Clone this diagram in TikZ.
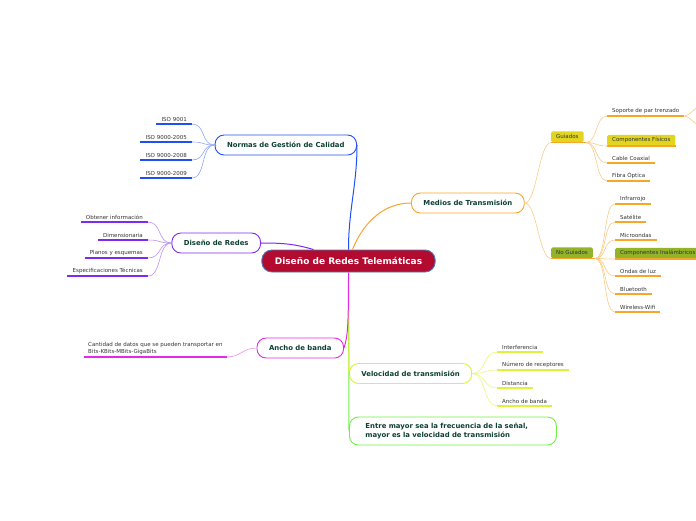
\documentclass[tikz,border=0pt]{standalone}
\usepackage{fontspec}
\setmainfont{DejaVu Sans}
\definecolor{rootfill}{HTML}{B30B2F}
\definecolor{rootline}{HTML}{4A7AB5}
\definecolor{topictxt}{HTML}{0D4032}
\definecolor{leaftxt}{HTML}{333333}
\definecolor{cblue}{HTML}{1F4FF5}
\definecolor{lblue}{HTML}{8FA8F8}
\definecolor{cpurple}{HTML}{7F2AF0}
\definecolor{lpurple}{HTML}{BB90F5}
\definecolor{cmag}{HTML}{E22BE6}
\definecolor{lmag}{HTML}{F08CF0}
\definecolor{corange}{HTML}{F8A528}
\definecolor{lorange}{HTML}{FBCB85}
\definecolor{cyel}{HTML}{DDF23A}
\definecolor{lyel}{HTML}{E9F58A}
\definecolor{cgreen}{HTML}{72EE48}
\definecolor{gyellow}{HTML}{E2D520}
\definecolor{golive}{HTML}{93B428}
\begin{document}
\begin{tikzpicture}[
  x=1pt,y=-1pt,
  topic/.style={draw,line width=0.9pt,fill=white,rounded corners=9pt,minimum height=20pt,
    inner xsep=12pt,text=topictxt,font=\bfseries\fontsize{6.9}{8.6}\selectfont},
  leaf/.style={inner xsep=5pt,inner ysep=2.5pt,text=leaftxt,font=\fontsize{5.5}{6.6}\selectfont},
  ytag/.style={leaf,fill=gyellow,rounded corners=1.5pt,minimum height=11pt,inner ysep=1pt},
  gtag/.style={leaf,fill=golive,rounded corners=1.5pt,minimum height=11pt,inner ysep=1pt},
  link/.style={line width=0.6pt},
  ul/.style={line width=1.1pt}
]
\useasboundingbox (0,0) rectangle (696,520);

\node[topic,fill=rootfill,draw=rootline,text=white,font=\bfseries\fontsize{9}{10}\selectfont,
  minimum height=22pt,inner xsep=13pt,rounded corners=10pt] (root) at (348.5,261) {Diseño de Redes Telemáticas};

\node[topic,draw=cblue,anchor=east] (nor) at (357,145) {Normas de Gestión de Calidad};
\node[topic,draw=cpurple,anchor=east] (dis) at (261,243) {Diseño de Redes};
\node[topic,draw=cmag,anchor=east] (anc) at (344,348) {Ancho de banda};
\node[topic,draw=corange,anchor=west] (med) at (411,203) {Medios de Transmisión};
\node[topic,draw=cyel,anchor=west] (vel) at (349,373.5) {Velocidad de transmisión};
\node[topic,draw=cgreen,align=left,text width=175pt,inner xsep=16pt,minimum height=28pt,anchor=west] (ent) at (349,431)
  {Entre mayor sea la frecuencia de la señal,\\mayor es la velocidad de transmisión};

\draw[link,cgreen,line width=1pt] (root.south) -- (ent.west);
\draw[link,cyel,line width=1pt] (root.south) -- (vel.west);
\draw[link,cmag,line width=1pt] (root.south) .. controls +(0,50) and +(4,-12) .. (anc.east);
\draw[link,cblue,line width=1pt] (root.north) .. controls +(0,-40) and +(0,40) .. (nor.east);
\draw[link,cpurple,line width=1pt] ([xshift=-35pt]root.north) .. controls +(-20,-6) and +(20,0) .. (dis.east);
\draw[link,corange,line width=1pt] ([xshift=4pt]root.north) .. controls +(12,-30) and +(-25,0) .. (med.west);

\foreach \t/\y [count=\i] in {ISO 9001/124,ISO 9000-2005/142,ISO 9000-2008/160,ISO 9000-2009/178}{
  \node[leaf,anchor=south east] (iso\i) at (192,\y) {\t};
  \draw[ul,cblue] (iso\i.south west) -- (iso\i.south east);
  \draw[link,lblue] (nor.west) .. controls +(-14,0) and +(14,0) .. (iso\i.south east);
}

\foreach \t/\y [count=\i] in {Obtener información/222,Dimensionaria/240,Planos y esquemas/258,Especificaciones Técnicas/276}{
  \node[leaf,anchor=south east] (red\i) at (148,\y) {\t};
  \draw[ul,cpurple] (red\i.south west) -- (red\i.south east);
  \draw[link,lpurple] (dis.west) .. controls +(-14,0) and +(14,0) .. (red\i.south east);
}

\node[leaf,anchor=south west,align=left,inner xsep=4pt] (cap) at (84,357)
  {Cantidad de datos que se pueden transportar en\\Bits-KBits-MBits-GigaBits};
\draw[ul,cmag] (cap.south west) -- (cap.south east);
\draw[link,lmag] (anc.west) .. controls +(-14,0) and +(14,0) .. (cap.south east);

\foreach \t/\y [count=\i] in {Interferencia/352,Número de receptores/370,Distancia/388,Ancho de banda/406}{
  \node[leaf,anchor=south west] (vel\i) at (497,\y) {\t};
  \draw[ul,cyel] (vel\i.south west) -- (vel\i.south east);
  \draw[link,lyel] (vel.east) .. controls +(14,0) and +(-14,0) .. (vel\i.south west);
}

\node[ytag,anchor=south west] (gui) at (551,142.5) {Guiados};
\node[gtag,anchor=south west] (ngu) at (551,258.5) {No Guiados};
\foreach \n in {gui,ngu}{
  \draw[ul,corange] (\n.south west) -- ([xshift=2pt]\n.south east);
  \draw[link,lorange] (med.east) .. controls +(12,0) and +(-12,0) .. (\n.south west);
}

\foreach \t/\y/\s [count=\i] in {Soporte de par trenzado/116/leaf,Componentes Físicos/146/ytag,
    Cable Coaxial/163/leaf,Fibra Óptica/181/leaf}{
  \node[\s,anchor=south west] (gui\i) at (607,\y) {\t};
  \draw[ul,corange] (gui\i.south west) -- (gui\i.south east);
  \draw[link,lorange] ([xshift=2pt]gui.south east) .. controls +(12,0) and +(-12,0) .. (gui\i.south west);
}

\coordinate (sopa) at (700,107);
\coordinate (sopb) at (700,125);
\foreach \c in {sopa,sopb}
  \draw[link,lorange] (gui1.south east) .. controls +(6,0) and +(-6,0) .. (\c);

\foreach \t/\y/\s [count=\i] in {Infrarrojo/204/leaf,Satélite/222/leaf,Microondas/240/leaf,
    Componentes Inalámbricos/259/gtag,Ondas de luz/276/leaf,Bluetooth/294/leaf,Wireless-Wifi/312/leaf}{
  \node[\s,anchor=south west] (ngu\i) at (615,\y) {\t};
  \draw[ul,corange] (ngu\i.south west) -- (ngu\i.south east);
  \draw[link,lorange] ([xshift=2pt]ngu.south east) .. controls +(12,0) and +(-12,0) .. (ngu\i.south west);
}
\end{tikzpicture}
\end{document}
